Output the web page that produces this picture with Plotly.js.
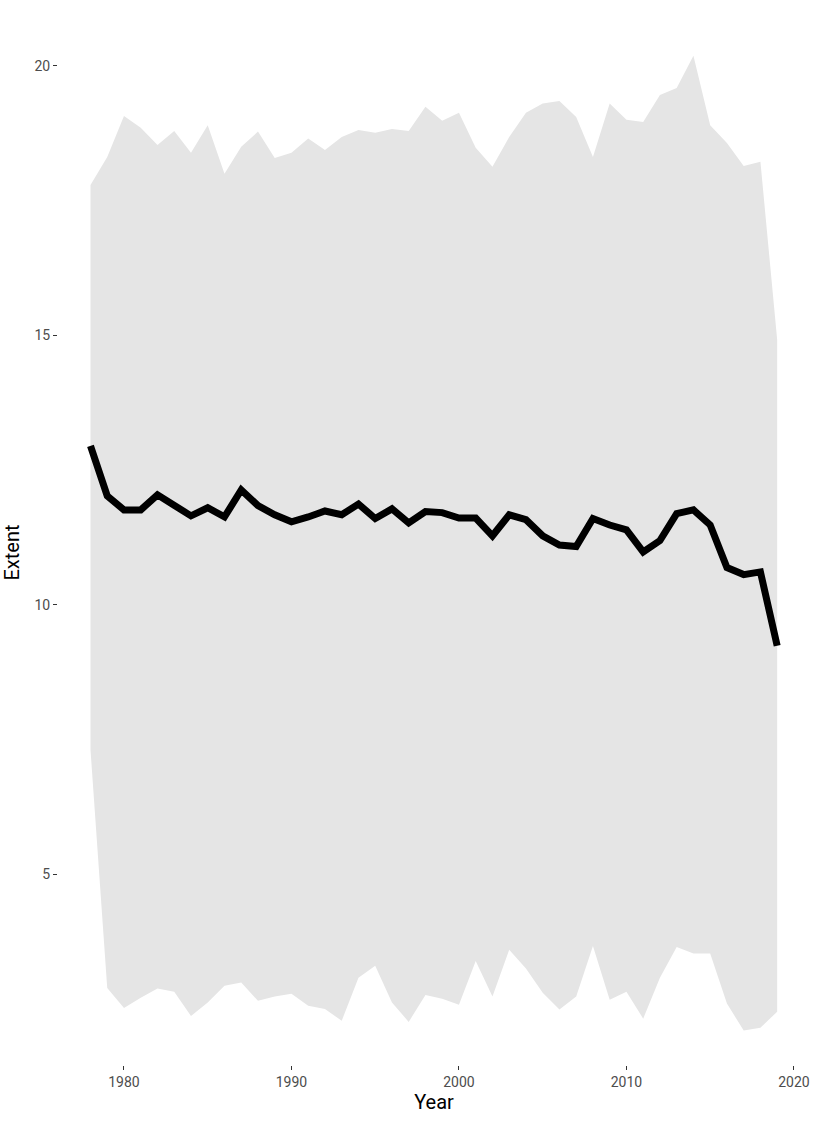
<!DOCTYPE html>
<html>
<head>
<meta charset="utf-8">
<script src="https://cdn.plot.ly/plotly-3.0.1.min.js"></script>
<style>body{margin:0;background:#fff}</style>
</head>
<body>
<div id="chart" style="width:819px;height:1136px"></div>
<script>
// Années et étendue (moyenne + bande min/max)
const years = [];
for (let y = 1978; y <= 2019; y++) years.push(y);

const extent = [12.95,12.02,11.76,11.76,12.04,11.84,11.65,11.8,11.63,12.13,11.84,11.67,11.54,11.63,11.74,11.67,11.87,11.6,11.78,11.52,11.73,11.71,11.61,11.61,11.28,11.67,11.58,11.28,11.11,11.08,11.6,11.48,11.39,10.98,11.19,11.69,11.76,11.48,10.69,10.56,10.61,9.24];

const upper = [17.79,18.31,19.07,18.85,18.53,18.79,18.39,18.9,18.0,18.5,18.78,18.29,18.39,18.65,18.44,18.68,18.81,18.76,18.83,18.79,19.24,18.98,19.13,18.48,18.13,18.68,19.13,19.3,19.35,19.05,18.31,19.3,19.0,18.96,19.46,19.59,20.19,18.9,18.57,18.14,18.22,14.92];

const lower = [7.31,2.89,2.52,2.71,2.88,2.82,2.37,2.62,2.93,2.99,2.65,2.73,2.78,2.56,2.5,2.28,3.08,3.3,2.62,2.26,2.76,2.69,2.58,3.39,2.73,3.6,3.25,2.8,2.49,2.73,3.67,2.67,2.82,2.32,3.08,3.65,3.53,3.53,2.6,2.1,2.15,2.45];

const data = [
    { x: years, y: lower, mode: 'lines', line: {width: 0}, hoverinfo: 'skip', showlegend: false },
    { x: years, y: upper, mode: 'lines', line: {width: 0}, fill: 'tonexty', fillcolor: '#e5e5e5', hoverinfo: 'skip', showlegend: false },
    { x: years, y: extent, mode: 'lines', line: {color: 'black', width: 7}, showlegend: false }
];

const layout = {
    width: 819, height: 1136,
    paper_bgcolor: 'white', plot_bgcolor: 'white',
    margin: {l: 58, r: 9, t: 40, b: 71},
    font: {family: 'Roboto, Arial, sans-serif', color: '#4d4d4d', size: 14},
    xaxis: {
        range: [1976.06, 2020.96], tickvals: [1980, 1990, 2000, 2010, 2020],
        showgrid: false, zeroline: false, showline: false,
        ticks: 'outside', ticklen: 4, tickcolor: '#333',
        title: {text: 'Year', font: {size: 20, color: 'black'}, standoff: 4}
    },
    yaxis: {
        range: [1.46, 20.48], tickvals: [5, 10, 15, 20],
        showgrid: false, zeroline: false, showline: false,
        ticks: 'outside', ticklen: 4, tickcolor: '#333',
        title: {text: 'Extent', font: {size: 20, color: 'black'}, standoff: 10}
    }
};

Plotly.newPlot('chart', data, layout, {displayModeBar: false});
</script>
</body>
</html>
